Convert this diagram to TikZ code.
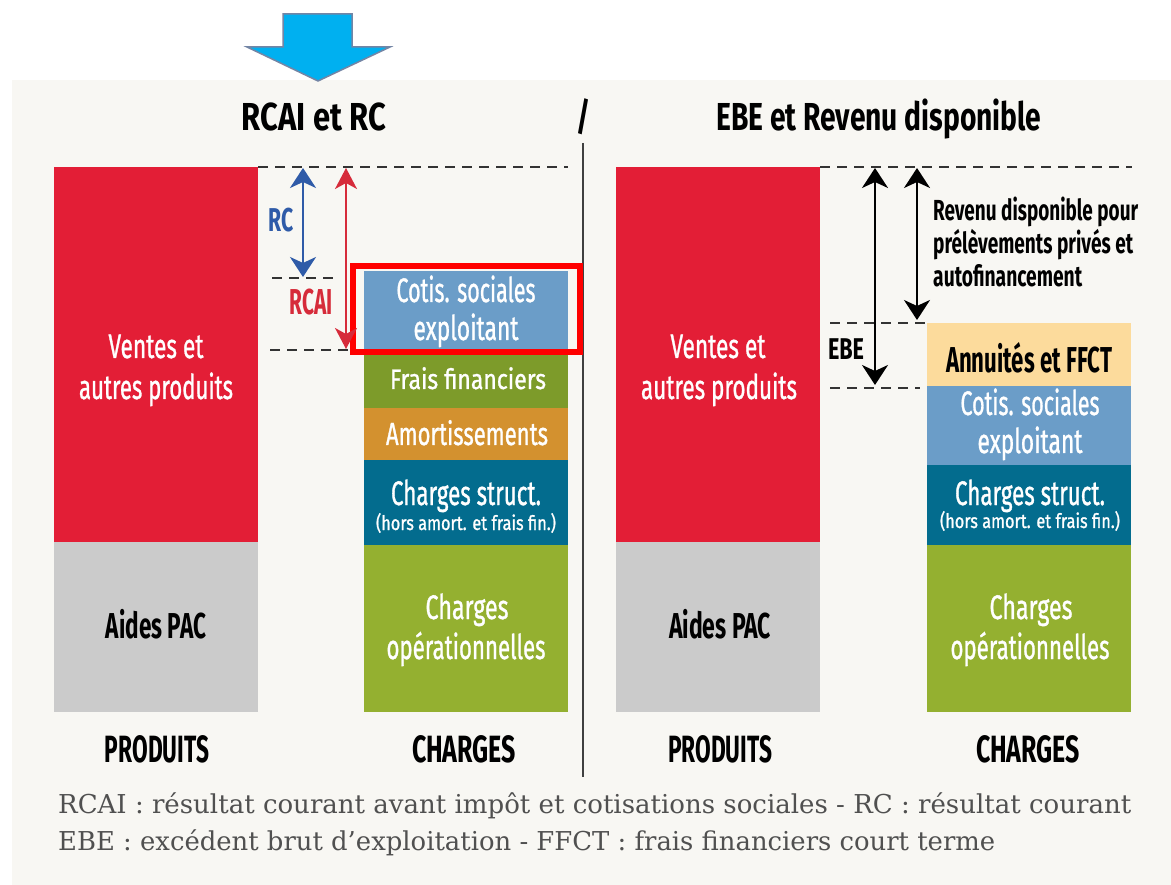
\documentclass[tikz,border=0pt]{standalone}
\usepackage{fontspec}
\usepackage{graphicx}
\usetikzlibrary{arrows.meta}
\newfontfamily\cf{Fira Sans}
\newfontfamily\cfm{Fira Sans}[FakeBold=1.2]
\newfontfamily\ff{DejaVu Serif}
\newcommand{\fw}[2]{\resizebox{#1pt}{\height}{#2}}
\definecolor{bg}{HTML}{F8F7F3}
\definecolor{vred}{HTML}{E31E36}
\definecolor{pgray}{HTML}{CBCBCB}
\definecolor{cotis}{HTML}{6B9DC8}
\definecolor{frais}{HTML}{7D9B2A}
\definecolor{amort}{HTML}{D3912F}
\definecolor{struct}{HTML}{036C8E}
\definecolor{oper}{HTML}{94B030}
\definecolor{annu}{HTML}{FCDB9C}
\definecolor{rcblue}{HTML}{2F5BA8}
\definecolor{rcred}{HTML}{D62B3A}
\definecolor{dashc}{HTML}{333333}
\definecolor{footc}{HTML}{505050}
\definecolor{arrfill}{HTML}{00B0F0}
\definecolor{arrline}{HTML}{7385A5}
\definecolor{hilite}{HTML}{FF0000}
\tikzset{
  lbl/.style={anchor=base, inner sep=0pt},
  wl/.style={lbl, text=white, font=\cfm\fontsize{34}{40}\selectfont},
  bl/.style={lbl, text=black, font=\cf\bfseries\fontsize{36}{42}\selectfont},
  dashln/.style={draw=dashc, line width=2.2pt, dash pattern=on 10pt off 7pt},
  tipb/.tip={Stealth[length=20pt,width=26pt,inset=6pt]},
  tipr/.tip={Stealth[length=21pt,width=22pt,inset=6pt]},
  darr/.style={line width=2.4pt, tipb-tipb},
}
\begin{document}
\begin{tikzpicture}[x=1pt,y=-1pt]
\useasboundingbox (0,0) rectangle (1171,885);
\fill[white] (0,0) rectangle (1171,885);
\fill[bg] (12,80) rectangle (1171,885);

% top arrow
\draw[fill=arrfill, draw=arrline, line width=1.5pt, line join=miter]
  (283,14) -- (352,14) -- (352,47) -- (390,47) -- (318,81) -- (247,47) -- (283,47) -- cycle;

% titles
\node[bl, font=\cf\bfseries\fontsize{39}{44}\selectfont] (t1) at (314,131) {\fw{144}{RCAI et RC}};
\node[bl, font=\cf\bfseries\fontsize{39}{44}\selectfont] (ts) at (583,131) {\fw{14}{/}};
\node[bl, font=\cf\bfseries\fontsize{39}{44}\selectfont] (t2) at (879,131) {\fw{325}{EBE et Revenu disponible}};

% separator
\coordinate (sepT) at (583,143);
\coordinate (sepB) at (583,777);
\draw[draw=black!75, line width=1.6pt] (sepT) -- (sepB);

% ===== left: produits
\fill[vred] (54,167) rectangle (258,542);
\fill[pgray] (54,542) rectangle (258,712);
\node[wl] (lv1) at (156,358) {\fw{95}{Ventes et}};
\node[wl] (lv2) at (156,399) {\fw{154}{autres produits}};
\node[bl] (laides) at (156,638) {\fw{100}{Aides PAC}};
\node[bl, font=\cf\bfseries\fontsize{38}{42}\selectfont] (lprod) at (157,762) {\fw{104}{PRODUITS}};

% ===== left: charges
\fill[cotis] (364,271) rectangle (568,355);
\fill[frais] (364,355) rectangle (568,408);
\fill[amort] (364,408) rectangle (568,460);
\fill[struct] (364,460) rectangle (568,545);
\fill[oper] (364,545) rectangle (568,712);
\node[wl] (lc1) at (466,302) {\fw{139}{Cotis. sociales}};
\node[wl] (lc2) at (466,340) {\fw{105}{exploitant}};
\node[wl, font=\cfm\fontsize{28}{32}\selectfont] (lff) at (468,389) {\fw{156}{Frais financiers}};
\node[wl, font=\cfm\fontsize{32}{36}\selectfont] (lam) at (467,445) {\fw{162}{Amortissements}};
\node[wl] (lcs) at (466,505) {\fw{150}{Charges struct.}};
\node[wl, font=\cfm\fontsize{20}{24}\selectfont] (lcs2) at (466,530) {\fw{180}{(hors amort. et frais fin.)}};
\node[wl] (lop1) at (467,619) {\fw{83}{Charges}};
\node[wl] (lop2) at (466,659) {\fw{159}{opérationnelles}};
\node[bl, font=\cf\bfseries\fontsize{38}{42}\selectfont] (lch) at (464,762) {\fw{104}{CHARGES}};

% highlight
\draw[hilite, line width=6pt] (353,266) rectangle (580,352);

% left dashed lines & arrows
\coordinate (ld1a) at (258,167); \coordinate (ld1b) at (568,167);
\coordinate (ld2a) at (272,278); \coordinate (ld2b) at (335,278);
\coordinate (ld3a) at (270,350); \coordinate (ld3b) at (350,350);
\draw[dashln] (ld1a) -- (ld1b);
\draw[dashln] (ld2a) -- (ld2b);
\draw[dashln] (ld3a) -- (ld3b);
\coordinate (rcT) at (303,168); \coordinate (rcB) at (303,277);
\coordinate (raT) at (346,168); \coordinate (raB) at (346,349);
\draw[darr, draw=rcblue] (rcT) -- (rcB);
\draw[line width=1.8pt, draw=rcred, tipr-tipr] (raT) -- (raB);
\node[lbl, text=rcblue, font=\cf\bfseries\fontsize{33}{36}\selectfont] (rc) at (281,232) {\fw{25}{RC}};
\node[lbl, text=rcred, font=\cf\bfseries\fontsize{36}{40}\selectfont] (rcai) at (311,315) {\fw{43}{RCAI}};

% ===== right: produits
\fill[vred] (616,167) rectangle (820,542);
\fill[pgray] (616,542) rectangle (820,712);
\node[wl] (rv1) at (718,358) {\fw{95}{Ventes et}};
\node[wl] (rv2) at (719,399) {\fw{156}{autres produits}};
\node[bl] (raides) at (720,638) {\fw{102}{Aides PAC}};
\node[bl, font=\cf\bfseries\fontsize{38}{42}\selectfont] (rprod) at (720,762) {\fw{104}{PRODUITS}};

% ===== right: charges
\fill[annu] (927,323) rectangle (1131,386);
\fill[cotis] (927,386) rectangle (1131,465);
\fill[struct] (927,465) rectangle (1131,545);
\fill[oper] (927,545) rectangle (1131,712);
\node[bl] (rann) at (1029,373) {\fw{166}{Annuités et FFCT}};
\node[wl] (rc1) at (1030,415) {\fw{139}{Cotis. sociales}};
\node[wl] (rc2) at (1030,453) {\fw{105}{exploitant}};
\node[wl] (rcs) at (1030,505) {\fw{150}{Charges struct.}};
\node[wl, font=\cfm\fontsize{20}{24}\selectfont] (rcs2) at (1030,528) {\fw{180}{(hors amort. et frais fin.)}};
\node[wl] (rop1) at (1031,619) {\fw{83}{Charges}};
\node[wl] (rop2) at (1030,659) {\fw{159}{opérationnelles}};
\node[bl, font=\cf\bfseries\fontsize{38}{42}\selectfont] (rch) at (1028,762) {\fw{104}{CHARGES}};

% right dashed lines & arrows
\coordinate (rd1a) at (820,167); \coordinate (rd1b) at (1132,167);
\coordinate (rd2a) at (830,323); \coordinate (rd2b) at (927,323);
\coordinate (rd3a) at (830,388); \coordinate (rd3b) at (920,388);
\draw[dashln] (rd1a) -- (rd1b);
\draw[dashln] (rd2a) -- (rd2b);
\draw[dashln] (rd3a) -- (rd3b);
\coordinate (ebeT) at (875,168); \coordinate (ebeB) at (875,385);
\coordinate (revT) at (917,168); \coordinate (revB) at (917,320);
\draw[darr, draw=black] (ebeT) -- (ebeB);
\draw[darr, draw=black] (revT) -- (revB);
\node[lbl, text=black, font=\cf\bfseries\fontsize{30}{34}\selectfont] (ebe) at (846,360) {\fw{36}{EBE}};
\node[lbl, anchor=base west, text=black, font=\cf\bfseries\fontsize{29}{32}\selectfont] (rev1) at (933,221) {\fw{205}{Revenu disponible pour}};
\node[lbl, anchor=base west, text=black, font=\cf\bfseries\fontsize{29}{32}\selectfont] (rev2) at (933,254) {\fw{200}{prélèvements privés et}};
\node[lbl, anchor=base west, text=black, font=\cf\bfseries\fontsize{29}{32}\selectfont] (rev3) at (933,287) {\fw{149}{autofinancement}};

% footer
\node[lbl, anchor=base west, text=footc, font=\ff\fontsize{26}{30}\selectfont] (f1) at (58,813)
  {\fw{1073}{RCAI : résultat courant avant impôt et cotisations sociales - RC : résultat courant}};
\node[lbl, anchor=base west, text=footc, font=\ff\fontsize{26}{30}\selectfont] (f2) at (58,850)
  {\fw{937}{EBE : excédent brut d’exploitation - FFCT : frais financiers court terme}};
\end{tikzpicture}
\end{document}
